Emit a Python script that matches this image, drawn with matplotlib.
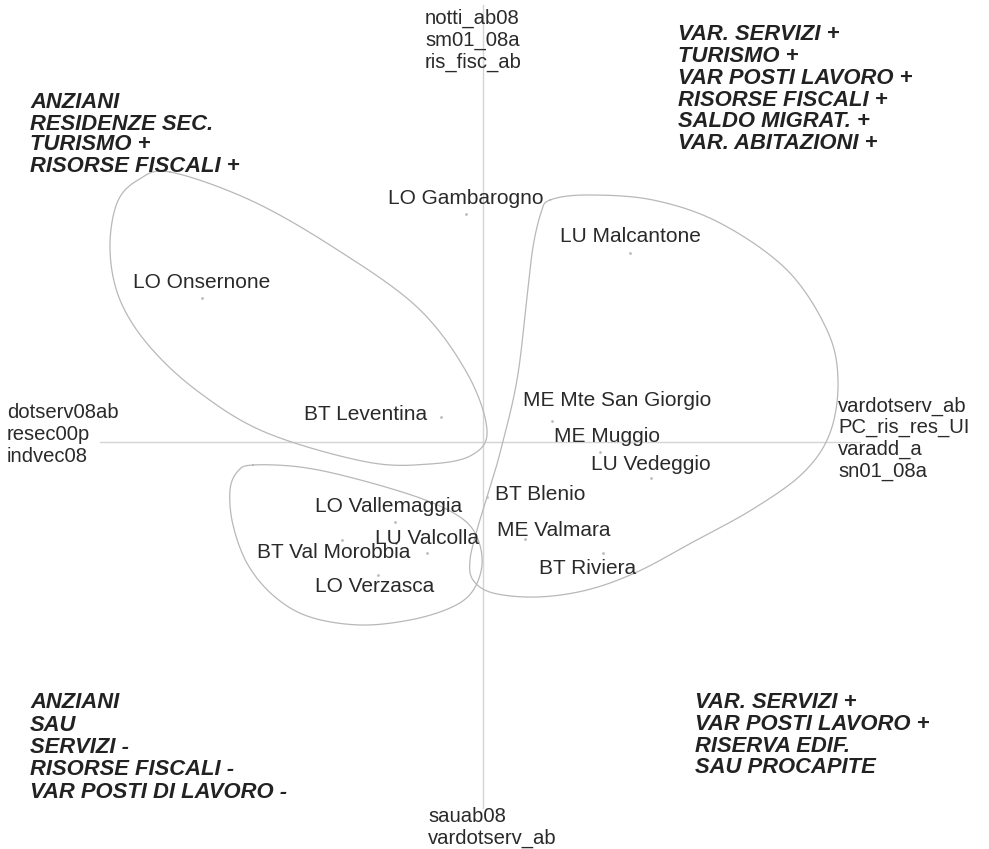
import numpy as np
import matplotlib
matplotlib.use("Agg")
import matplotlib.pyplot as plt

plt.rcParams['font.family'] = ['Liberation Sans', 'DejaVu Sans']

# factorial plane: units on both dimensions
names = ["LO Gambarogno", "LU Malcantone", "LO Onsernone", "BT Leventina",
         "ME Mte San Giorgio", "ME Muggio", "LU Vedeggio", "BT Blenio",
         "LO Vallemaggia", "LU Valcolla", "ME Valmara", "BT Val Morobbia",
         "BT Riviera", "LO Verzasca"]
dim1 = [-0.17, 1.47, -2.81, -0.42, 0.69, 1.17, 1.68, 0.04,
        -0.88, -0.56, 0.42, -1.41, 1.20, -1.05]
dim2 = [2.28, 1.89, 1.44, 0.25, 0.21, -0.10, -0.36, -0.55,
        -0.80, -1.11, -0.97, -0.98, -1.11, -1.33]
# label offset from the dot, in pixels
label_dx = [0, 0, 0, -75, 65, 7, 0, 53, -6, 0, 29, -8, -15, -3]
label_dy = [16, 16, 16, 3, 20, 15, 14, 3, 15, 14, 9, -13, -15, -12]

# active variables at the ends of the axes
vars_top = ["notti_ab08", "sm01_08a", "ris_fisc_ab"]
vars_left = ["dotserv08ab", "resec00p", "indvec08"]
vars_right = ["vardotserv_ab", "PC_ris_res_UI", "varadd_a", "sn01_08a"]
vars_bottom = ["sauab08", "vardotserv_ab"]

# quadrant descriptions
q_top_left = ["ANZIANI", "RESIDENZE SEC.", "TURISMO +", "RISORSE FISCALI +"]
q_top_right = ["VAR. SERVIZI +", "TURISMO +", "VAR POSTI LAVORO +",
               "RISORSE FISCALI +", "SALDO MIGRAT. +", "VAR. ABITAZIONI +"]
q_bottom_left = ["ANZIANI", "SAU", "SERVIZI -", "RISORSE FISCALI -",
                 "VAR POSTI DI LAVORO -"]
q_bottom_right = ["VAR. SERVIZI +", "VAR POSTI LAVORO +", "RISERVA EDIF.",
                  "SAU PROCAPITE"]

# cluster outlines (control points)
group_a_x = [-3.13, -2.33, -1.50, -0.66, -0.16, 0.04, -0.11, -0.53, -1.16,
             -2.16, -2.83, -3.33, -3.63, -3.73, -3.66, -3.45]
group_a_y = [2.70, 2.42, 1.95, 1.35, 0.69, 0.12, -0.13, -0.22, -0.20,
             0.09, 0.49, 0.95, 1.42, 1.92, 2.39, 2.62]
group_b_x = [0.67, 1.04, 1.70, 2.37, 3.04, 3.44, 3.55, 3.47, 3.20, 2.70,
             2.10, 1.54, 1.04, 0.54, 0.10, -0.10, -0.13, -0.06, 0.04, 0.17,
             0.34, 0.44, 0.50, 0.58]
group_b_y = [2.42, 2.47, 2.42, 2.19, 1.72, 1.12, 0.62, 0.09, -0.31, -0.67,
             -1.00, -1.30, -1.48, -1.55, -1.51, -1.38, -1.18, -0.88, -0.55,
             -0.11, 0.62, 1.45, 1.95, 2.29]
group_c_x = [-2.30, -1.83, -1.30, -0.63, -0.23, -0.06, -0.01, -0.11, -0.33,
             -0.73, -1.23, -1.73, -2.08, -2.35, -2.50, -2.53, -2.45]
group_c_y = [-0.23, -0.25, -0.36, -0.56, -0.75, -0.95, -1.23, -1.50, -1.66,
             -1.78, -1.83, -1.75, -1.55, -1.23, -0.83, -0.48, -0.29]


def closed_spline(xs, ys, n=30):
    p = np.column_stack([xs, ys])
    m = len(p)
    t = np.linspace(0, 1, n, endpoint=False)[:, None]
    segs = []
    for i in range(m):
        p0, p1, p2, p3 = p[(i - 1) % m], p[i], p[(i + 1) % m], p[(i + 2) % m]
        segs.append(0.5 * (2 * p1 + (-p0 + p2) * t
                           + (2 * p0 - 5 * p1 + 4 * p2 - p3) * t ** 2
                           + (-p0 + 3 * p1 - 3 * p2 + p3) * t ** 3))
    segs.append(segs[0][:1])
    out = np.vstack(segs)
    return out[:, 0], out[:, 1]


fig = plt.figure(figsize=(9.89, 8.49), dpi=100)
ax = fig.add_axes([0, 0, 1, 1])
ax.set_xlim(-4.83, 5.06)
ax.set_ylim(-4.07, 4.42)
ax.axis("off")

# axes of the plane
ax.plot([-3.83, 3.77], [0, 0], color="#d4d4d4", lw=1)
ax.plot([0, 0], [-3.66, 4.37], color="#d4d4d4", lw=1)

for gx, gy in [(group_a_x, group_a_y), (group_b_x, group_b_y), (group_c_x, group_c_y)]:
    sx, sy = closed_spline(gx, gy)
    ax.plot(sx, sy, color="#b8b8b8", lw=0.9)

ax.scatter(dim1, dim2, s=1, color="#bbbbbb", zorder=3)
fs = 15
for name, x, y, dx, dy in zip(names, dim1, dim2, label_dx, label_dy):
    ax.annotate(name, (x, y), xytext=(dx, dy), textcoords="offset pixels",
                ha="center", va="center", fontsize=fs, color="#2a2a2a")


def block(lines, x, y, step, size, **kw):
    for i, s in enumerate(lines):
        ax.text(x, y - i * step, s, ha="left", va="center", fontsize=size, **kw)


vs = 14.6
block(vars_top, -0.58, 4.24, 0.22, vs, color="#2a2a2a")
block(vars_left, -4.76, 0.29, 0.22, vs, color="#2a2a2a")
block(vars_right, 3.55, 0.36, 0.217, vs, color="#2a2a2a")
block(vars_bottom, -0.55, -3.745, 0.215, vs, color="#2a2a2a")

qkw = dict(color="#222222", fontweight="bold", fontstyle="italic")
block(q_top_left, -4.53, 3.39, 0.21, 15.8, **qkw)
block(q_top_right, 1.95, 4.07, 0.217, 15.8, **qkw)
block(q_bottom_left, -4.53, -2.61, 0.223, 15.8, **qkw)
block(q_bottom_right, 2.12, -2.61, 0.215, 15.8, **qkw)

fig.savefig("out.png", dpi=100)
